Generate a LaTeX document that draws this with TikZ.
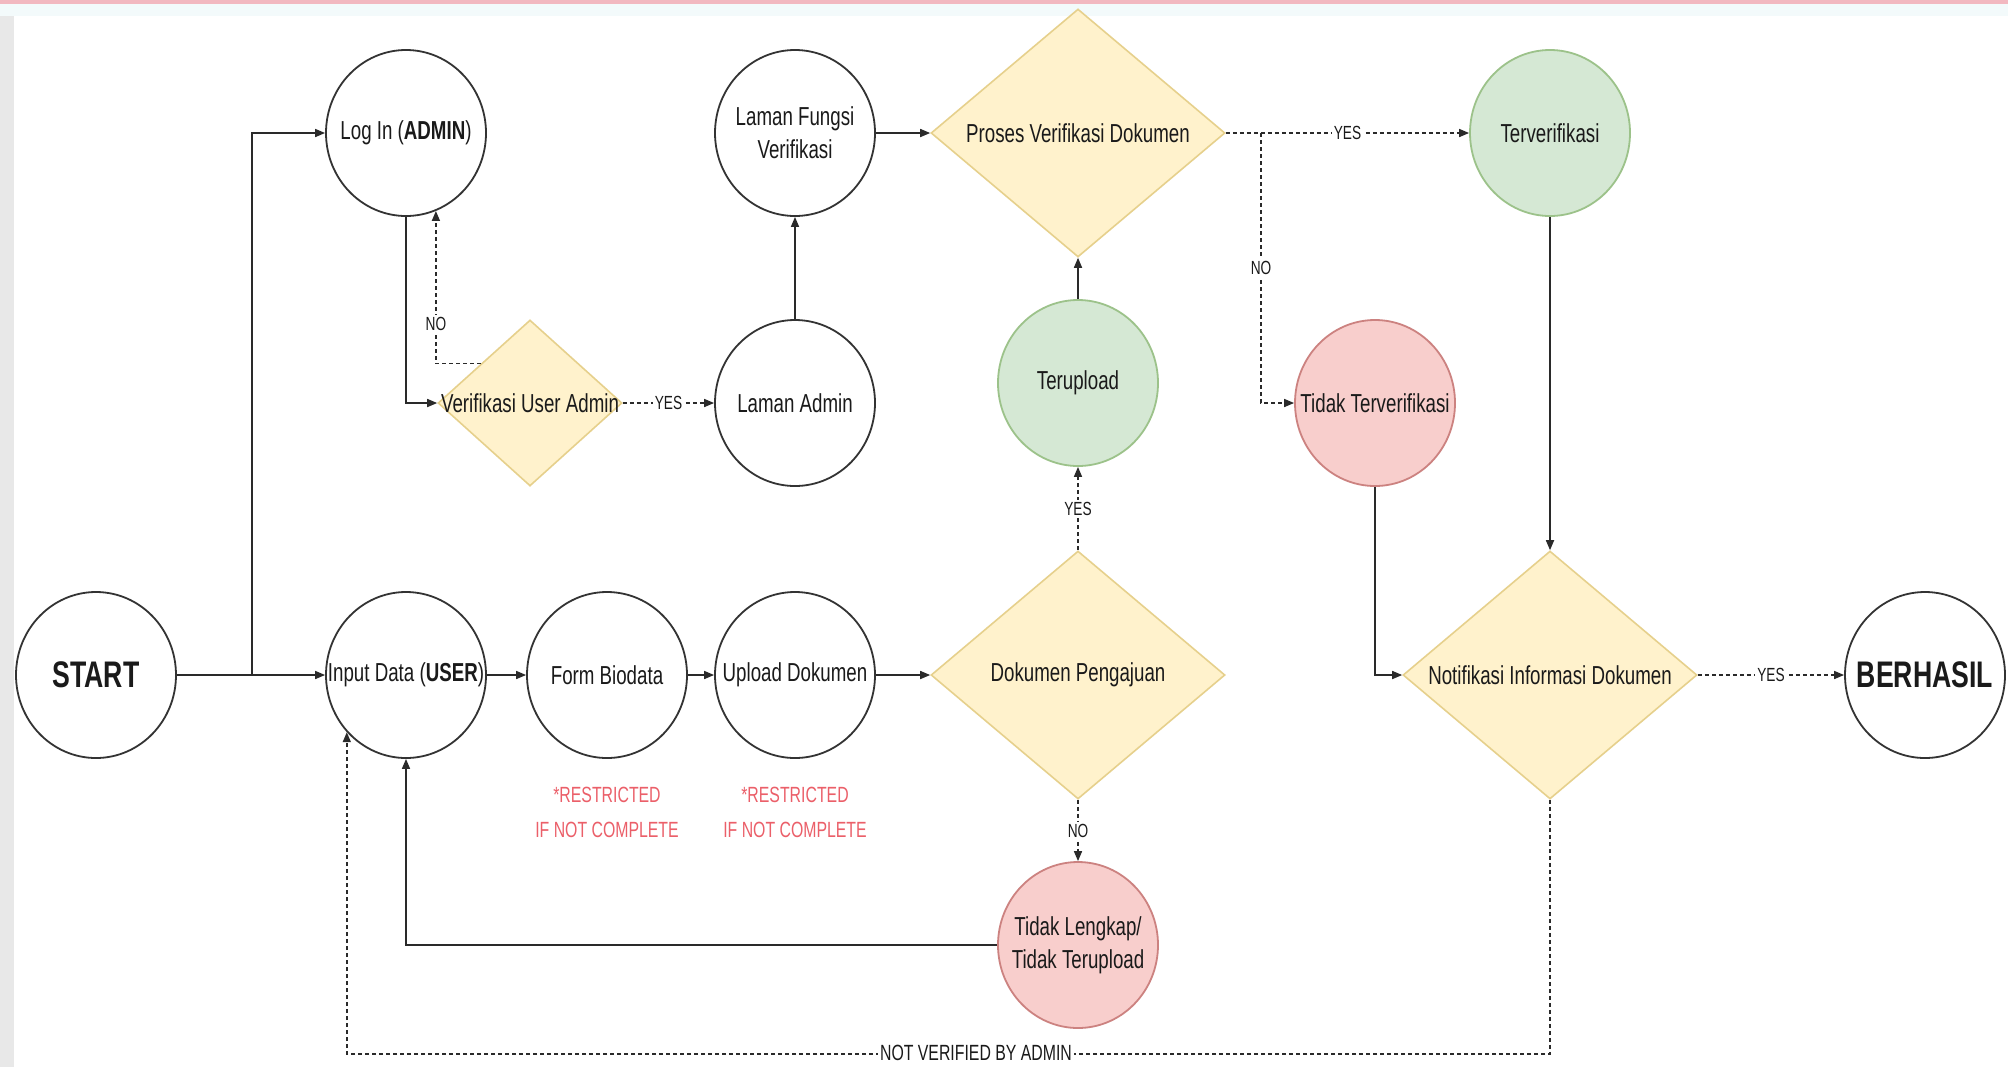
\documentclass[tikz,border=0pt]{standalone}
\usepackage{fontspec}
\setmainfont{Liberation Sans}[FakeStretch=0.72]
\usetikzlibrary{shapes.geometric,arrows.meta,calc}
\definecolor{ylwfill}{HTML}{FFF2CC}
\definecolor{ylwline}{HTML}{E6D08C}
\definecolor{grnfill}{HTML}{D5E8D4}
\definecolor{grnline}{HTML}{9CC28A}
\definecolor{redfill}{HTML}{F8CECC}
\definecolor{redline}{HTML}{CC8280}
\definecolor{nodeline}{HTML}{333333}
\definecolor{linecol}{HTML}{2A2A2A}
\definecolor{txtcol}{HTML}{1A1A1A}
\definecolor{warn}{HTML}{EB5F69}
\definecolor{pinkline}{HTML}{F2B8C0}
\definecolor{topband}{HTML}{F3FAFB}
\definecolor{leftstrip}{HTML}{E8E8E8}
\tikzset{
  circ/.style={ellipse, draw=nodeline, line width=0.9pt, fill=white, minimum width=80pt, minimum height=83pt, inner sep=0pt},
  grn/.style={circ, draw=grnline, fill=grnfill},
  rd/.style={circ, draw=redline, fill=redfill},
  dia/.style={diamond, draw=ylwline, fill=ylwfill, line width=0.8pt, minimum width=147pt, minimum height=124pt, inner sep=0pt},
  sdia/.style={dia, minimum width=92pt, minimum height=83pt},
  txt/.style={font=\fontsize{13}{16.5}\selectfont, text=txtcol, align=center, inner sep=0pt},
  bigtxt/.style={font=\fontsize{18.5}{20}\selectfont\bfseries, text=txtcol, inner sep=0pt},
  lbl/.style={font=\fontsize{9.5}{11}\selectfont, text=txtcol, fill=white, inner sep=1pt},
  nvlbl/.style={font=\fontsize{11}{13}\selectfont, text=txtcol, fill=white, inner sep=1pt},
  warntxt/.style={font=\fontsize{11}{17.5}\selectfont, text=warn, align=center},
  conn/.style={draw=linecol, line width=0.8pt, -{Triangle[length=5pt,width=4pt]}},
  dconn/.style={conn, dash pattern=on 2pt off 1.5pt},
}
\begin{document}
\begin{tikzpicture}[x=0.5pt,y=-0.5pt]
\path[use as bounding box] (0,0) rectangle (2008,1067);
\fill[white] (0,0) rectangle (2008,1067);
\fill[topband] (0,4) rectangle (2008,16);
\fill[pinkline] (0,0) rectangle (2008,4);
\fill[leftstrip] (0,16) rectangle (14,1067);

% nodes
\node[circ, label={[bigtxt]center:START}] (start) at (96,675) {};
\node[circ, label={[txt]center:{Log In (\textbf{ADMIN})}}] (login) at (406,133) {};
\node[sdia, label={[txt]center:{Verifikasi User Admin}}] (vua) at (530,403) {};
\node[circ, label={[txt]center:{Laman Admin}}] (ladmin) at (795,403) {};
\node[circ, label={[txt]center:{Laman Fungsi\\Verifikasi}}] (lfungsi) at (795,133) {};
\node[dia, label={[txt]center:{Proses Verifikasi Dokumen}}] (proses) at (1078,133) {};
\node[grn, label={[txt]center:{Terverifikasi}}] (tv) at (1550,133) {};
\node[grn, label={[txt]center:{Terupload}}] (terupload) at (1078,383) {};
\node[rd, label={[txt]center:{Tidak Terverifikasi}}] (tt) at (1375,403) {};
\node[circ, label={[txt]center:{Input Data (\textbf{USER})}}] (input) at (406,675) {};
\node[circ, label={[txt]center:{Form Biodata}}] (form) at (607,675) {};
\node[circ, label={[txt]center:{Upload Dokumen}}] (upload) at (795,675) {};
\node[dia, label={[txt]center:{Dokumen Pengajuan}}] (dok) at (1078,675) {};
\node[dia, label={[txt]center:{Notifikasi Informasi Dokumen}}] (notif) at (1550,675) {};
\node[circ, label={[bigtxt]center:BERHASIL}] (berhasil) at (1925,675) {};
\node[rd, label={[txt]center:{Tidak Lengkap/\\Tidak Terupload}}] (tl) at (1078,945) {};

\node[warntxt] (w1) at (607,812) {*RESTRICTED\\IF NOT COMPLETE};
\node[warntxt] (w2) at (795,812) {*RESTRICTED\\IF NOT COMPLETE};

% junction coordinates
\coordinate (jn) at (252,675);
\coordinate (pj) at (1261,133);
\coordinate (vuano) at ($(vua.west)!0.47!(vua.north)$);

% connectors
\draw[conn] (start.east) -- (input.west);
\draw[conn] (jn) |- (login.west);
\draw[conn] (login.south) |- (vua.west);
\draw[dconn] (vuano) -| node[lbl, pos=0.63] (lno1) {NO} (login.-69.4);
\draw[dconn] (vua.east) -- node[lbl] (lyes1) {YES} (ladmin.west);
\draw[conn] (ladmin.north) -- (lfungsi.south);
\draw[conn] (lfungsi.east) -- (proses.west);
\draw[dconn] (proses.east) -- node[lbl, pos=0.5] (lyes2) {YES} (tv.west);
\draw[dconn] (pj) |- node[lbl, pos=0.25] (lno2) {NO} (tt.west);
\draw[conn] (terupload.north) -- (proses.south);
\draw[dconn] (dok.north) -- node[lbl] (lyes3) {YES} (terupload.south);
\draw[dconn] (dok.south) -- node[lbl] (lno3) {NO} (tl.north);
\draw[conn] (tl.west) -| (input.south);
\draw[conn] (input.east) -- (form.west);
\draw[conn] (form.east) -- (upload.west);
\draw[conn] (upload.east) -- (dok.west);
\draw[conn] (tv.south) -- (notif.north);
\draw[conn] (tt.south) |- (notif.west);
\draw[dconn] (notif.east) -- node[lbl] (lyes4) {YES} (berhasil.west);
\draw[dconn] (notif.south) -- ++(0,254) -| (input.224.5);
\node[nvlbl] (nvl) at (976,1053) {NOT VERIFIED BY ADMIN};
\end{tikzpicture}
\end{document}
